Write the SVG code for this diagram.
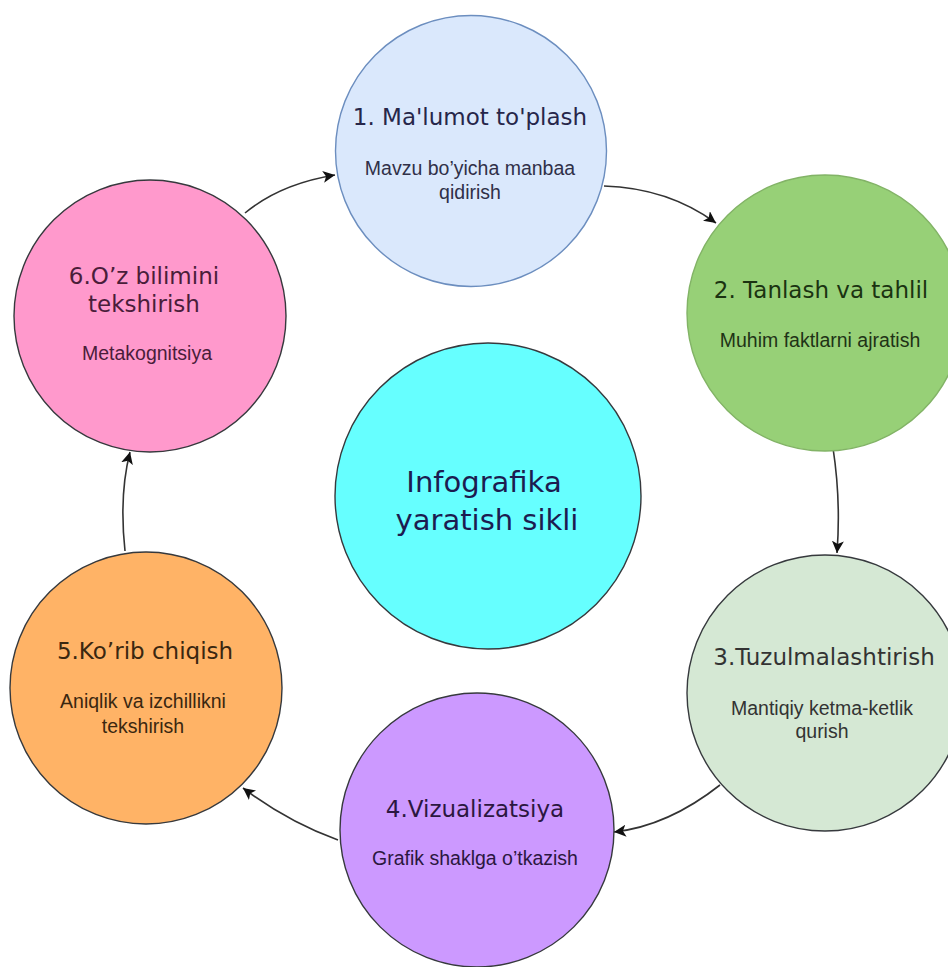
<svg xmlns="http://www.w3.org/2000/svg" width="948" height="967" viewBox="0 0 948 967">
  <defs>
    <style>
      .node { stroke-width: 1.4; }
      .title { font-family: "DejaVu Sans", Verdana, sans-serif; font-size: 23px; text-anchor: middle; }
      .sub { font-family: "Liberation Sans", Arial, sans-serif; font-size: 19.5px; text-anchor: middle; }
      .center { font-family: "DejaVu Sans", sans-serif; font-size: 29px; text-anchor: middle; fill: #1c1c50; }
      .edge { fill: none; stroke: #333333; stroke-width: 1.6; marker-end: url(#arrow); }
    </style>
    <marker id="arrow" markerUnits="userSpaceOnUse" markerWidth="14" markerHeight="12" refX="12" refY="6" orient="auto">
      <path d="M0,0 L12,6 L0,12 L3,6 Z" fill="#111111"/>
    </marker>
  </defs>
  <rect width="948" height="967" fill="#ffffff"/>

  <g id="connectors">
    <path class="edge" d="M604,186 Q668,188 716,223"/>
    <path class="edge" d="M833,448 Q841,500 837,553"/>
    <path class="edge" d="M720,785 Q668,826 614,832"/>
    <path class="edge" d="M338,840 Q288,822 243,788"/>
    <path class="edge" d="M125,551 Q119,495 130,452"/>
    <path class="edge" d="M245,213 Q280,184 335,175"/>
  </g>

  <g id="node-center">
    <circle cx="488" cy="496" r="153" fill="#66ffff" stroke="#36393d" class="node"/>
    <text class="center" x="484" y="492">Infografika</text>
    <text class="center" x="487" y="530">yaratish sikli</text>
  </g>

  <g id="node-1">
    <circle cx="471" cy="151" r="135.5" fill="#dae8fc" stroke="#6c8ebf" class="node"/>
    <text class="title" x="470" y="125" fill="#26264a">1. Ma'lumot to'plash</text>
    <text class="sub" x="470" y="175" fill="#303048">Mavzu bo’yicha manbaa</text>
    <text class="sub" x="470" y="199" fill="#303048">qidirish</text>
  </g>

  <g id="node-2">
    <circle cx="825" cy="313" r="138" fill="#97d077" stroke="#82b366" class="node"/>
    <text class="title" x="821" y="298" fill="#1b3311">2. Tanlash va tahlil</text>
    <text class="sub" x="820" y="347" fill="#1f3316">Muhim faktlarni ajratish</text>
  </g>

  <g id="node-3">
    <circle cx="825" cy="693" r="138" fill="#d5e8d4" stroke="#36393d" class="node"/>
    <text class="title" x="824" y="665" fill="#333333">3.Tuzulmalashtirish</text>
    <text class="sub" x="822" y="715" fill="#333333">Mantiqiy ketma-ketlik</text>
    <text class="sub" x="822" y="738" fill="#333333">qurish</text>
  </g>

  <g id="node-4">
    <circle cx="477" cy="830" r="137" fill="#cc99ff" stroke="#36393d" class="node"/>
    <text class="title" x="475" y="817" fill="#2b1740">4.Vizualizatsiya</text>
    <text class="sub" x="475" y="865" fill="#2b1740">Grafik shaklga o’tkazish</text>
  </g>

  <g id="node-5">
    <circle cx="146" cy="688" r="136" fill="#ffb366" stroke="#36393d" class="node"/>
    <text class="title" x="145" y="659" fill="#3a2710">5.Ko’rib chiqish</text>
    <text class="sub" x="143" y="708" fill="#3a2710">Aniqlik va izchillikni</text>
    <text class="sub" x="143" y="733" fill="#3a2710">tekshirish</text>
  </g>

  <g id="node-6">
    <circle cx="150" cy="316" r="136" fill="#ff99cc" stroke="#36393d" class="node"/>
    <text class="title" x="144" y="284" fill="#4a1d3a">6.O’z bilimini</text>
    <text class="title" x="144" y="312" fill="#4a1d3a">tekshirish</text>
    <text class="sub" x="147" y="360" fill="#4a1d3a">Metakognitsiya</text>
  </g>
</svg>
